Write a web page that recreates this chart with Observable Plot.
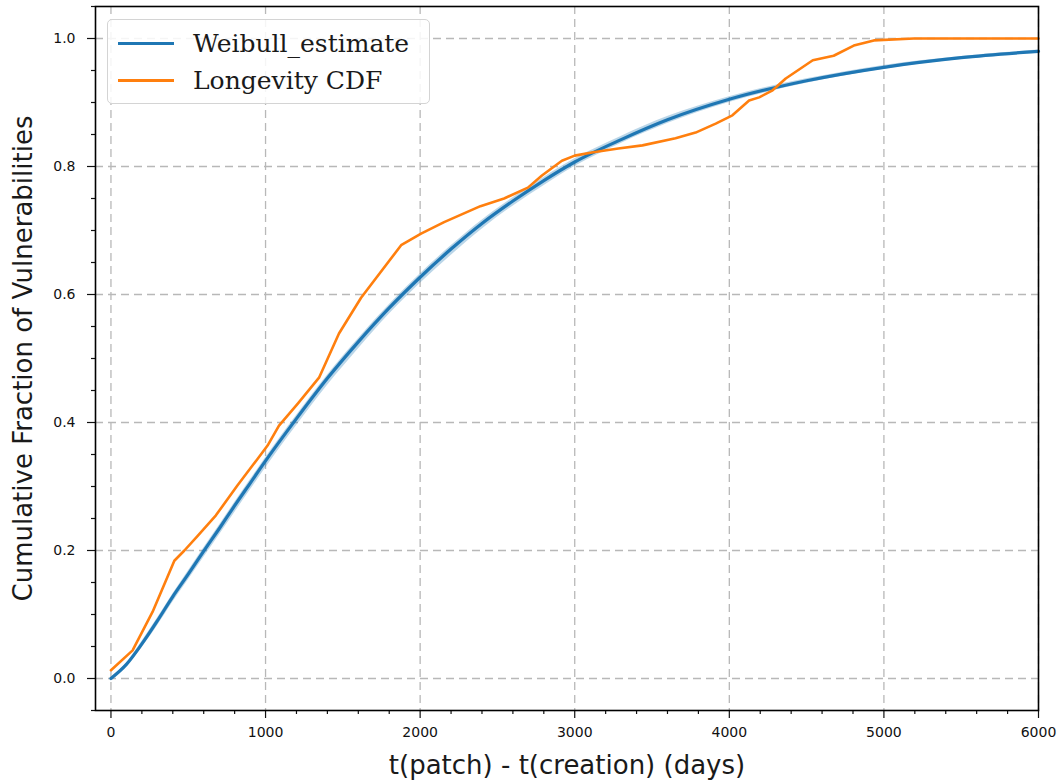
<!DOCTYPE html>
<html>
<head>
<meta charset="utf-8">
<script src="https://cdn.jsdelivr.net/npm/d3@7"></script>
<script src="https://cdn.jsdelivr.net/npm/@observablehq/plot@0.6"></script>
<style>
  html, body { margin: 0; padding: 0; background: #fff; }
  #wrap { position: relative; width: 1060px; height: 784px; }
  #legend {
    position: absolute; left: 107px; top: 19px; width: 321px; height: 83px;
    border: 1px solid #d4d4d4; border-radius: 5px; background: rgba(255,255,255,0.85);
    font-family: "DejaVu Serif", serif; font-size: 25px; color: #1a1a1a;
  }
  .entry { position: absolute; left: 10px; height: 30px; display: flex; align-items: center; }
  .swatch { width: 56px; height: 0; border-top: 3px solid; margin-right: 19px; }
</style>
</head>
<body>
<div id="wrap"><div id="legend"></div></div>
<script>
// ---- data ----
const xTicks = [0, 1000, 2000, 3000, 4000, 5000, 6000];
const xMinor = [200,400,600,800,1200,1400,1600,1800,2200,2400,2600,2800,3200,3400,3600,3800,4200,4400,4600,4800,5200,5400,5600,5800];
const yTicks = [0, 0.2, 0.4, 0.6, 0.8, 1.0];
const yMinor = [-0.05,0.05,0.1,0.15,0.25,0.3,0.35,0.45,0.5,0.55,0.65,0.7,0.75,0.85,0.9,0.95,1.05];

const seriesNames = ["Weibull_estimate", "Longevity CDF"];
const seriesColors = ["#1f77b4", "#ff7f0e"];

const weibullDays = [0,100,200,300,400,500,600,700,800,900,1000,1200,1400,1600,1800,2000,2200,2400,2600,2800,3000,3300,3600,4000,4500,5000,5500,6000];
const weibullValue = [0,0.022,0.054,0.090,0.128,0.163,0.199,0.234,0.270,0.305,0.340,0.406,0.469,0.526,0.579,0.627,0.671,0.711,0.746,0.778,0.807,0.842,0.873,0.905,0.934,0.955,0.970,0.980];
const weibullLow = [0,0.019,0.048,0.082,0.119,0.154,0.189,0.224,0.259,0.294,0.329,0.395,0.458,0.515,0.569,0.617,0.661,0.702,0.738,0.770,0.800,0.836,0.867,0.900,0.930,0.952,0.967,0.977];
const weibullHigh = [0,0.024,0.058,0.094,0.132,0.168,0.204,0.239,0.275,0.310,0.345,0.411,0.474,0.531,0.584,0.632,0.676,0.716,0.751,0.783,0.812,0.847,0.878,0.909,0.937,0.958,0.972,0.982];

const longevityDays = [0,140,269,410,475,561,679,819,948,1013,1087,1210,1346,1475,1618,1877,2006,2155,2390,2543,2697,2788,2917,3000,3110,3282,3438,3652,3782,3912,4020,4128,4193,4280,4365,4540,4675,4805,4935,5195,6000];
const longevityValue = [0.013,0.044,0.104,0.184,0.200,0.223,0.255,0.302,0.343,0.364,0.395,0.430,0.470,0.539,0.595,0.677,0.695,0.713,0.738,0.750,0.767,0.786,0.809,0.817,0.822,0.828,0.833,0.844,0.853,0.867,0.880,0.903,0.908,0.919,0.9375,0.966,0.973,0.989,0.997,1.0,1.0];

const xLabel = "t(patch) - t(creation) (days)";
const yLabel = "Cumulative Fraction of Vulnerabilities";

// ---- tables ----
const weibull = weibullDays.map((t, i) => ({t, v: weibullValue[i], lo: weibullLow[i], hi: weibullHigh[i]}));
const longevity = longevityDays.map((t, i) => ({t, v: longevityValue[i]}));

const gridStyle = {stroke: "#b8b8b8", strokeOpacity: 1, strokeWidth: 1.3, strokeDasharray: "8,5"};

const chart = Plot.plot({
  width: 1060, height: 784,
  marginLeft: 95, marginRight: 22, marginTop: 6, marginBottom: 74,
  style: {fontFamily: "'DejaVu Sans', sans-serif", color: "#111", background: "#fff"},
  x: {domain: [-100, 6000]},
  y: {domain: [-0.05, 1.05]},
  marks: [
    Plot.gridX(xTicks, gridStyle),
    Plot.gridY(yTicks, gridStyle),
    Plot.areaY(weibull, {x: "t", y1: "lo", y2: "hi", fill: seriesColors[0], fillOpacity: 0.3, curve: "monotone-x"}),
    Plot.lineY(weibull, {x: "t", y: "v", stroke: seriesColors[0], strokeWidth: 3.2, curve: "monotone-x"}),
    Plot.lineY(longevity, {x: "t", y: "v", stroke: seriesColors[1], strokeWidth: 2.6, strokeLinejoin: "round"}),
    Plot.axisX(xMinor, {tickSize: 4, tickFormat: () => "", label: null, strokeWidth: 1.2}),
    Plot.axisX(xTicks, {tickSize: 8, tickPadding: 9, fontSize: 14, label: null, tickFormat: d => String(d), strokeWidth: 1.2}),
    Plot.axisY(yMinor, {tickSize: 4, tickFormat: () => "", label: null, strokeWidth: 1.2}),
    Plot.axisY(yTicks, {tickSize: 8, tickPadding: 12, fontSize: 14, label: null, tickFormat: d => d.toFixed(1), strokeWidth: 1.2}),
    Plot.frame({stroke: "#000", strokeWidth: 1.6}),
    Plot.text([xLabel], {frameAnchor: "bottom", dy: 63, fontSize: 26, fill: "#1a1a1a"}),
    Plot.text([yLabel], {frameAnchor: "left", textAnchor: "middle", lineAnchor: "middle", rotate: -90, dx: -72, fontSize: 26, fill: "#1a1a1a"})
  ]
});

const wrap = document.getElementById("wrap");
wrap.insertBefore(chart, wrap.firstChild);

const legend = document.getElementById("legend");
seriesNames.forEach((name, i) => {
  const row = document.createElement("div");
  row.className = "entry";
  row.style.top = (8 + i * 37) + "px";
  const sw = document.createElement("span");
  sw.className = "swatch";
  sw.style.borderTopColor = seriesColors[i];
  const label = document.createElement("span");
  label.textContent = name;
  row.appendChild(sw);
  row.appendChild(label);
  legend.appendChild(row);
});
</script>
</body>
</html>
